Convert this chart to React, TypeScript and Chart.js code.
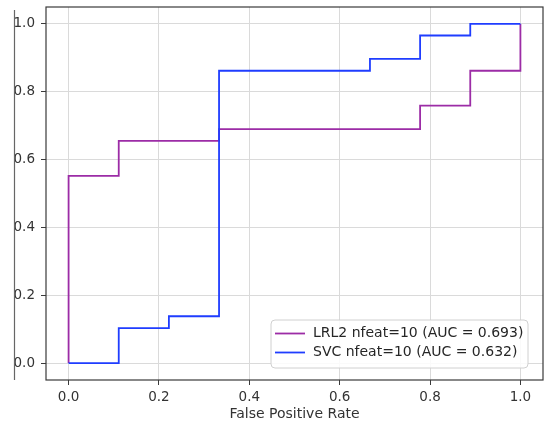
import { useEffect, useRef } from "react";
import { Chart, registerables } from "chart.js";
Chart.register(...registerables);

const lrl2Fpr = [0, 0, 0.111, 0.111, 0.333, 0.333, 0.778, 0.778, 0.889, 0.889, 1.0, 1.0];
const lrl2Tpr = [0, 0.552, 0.552, 0.655, 0.655, 0.69, 0.69, 0.759, 0.759, 0.862, 0.862, 1.0];
const svcFpr = [0, 0.111, 0.111, 0.222, 0.222, 0.333, 0.333, 0.667, 0.667, 0.778, 0.778, 0.889, 0.889, 1.0];
const svcTpr = [0, 0, 0.103, 0.103, 0.138, 0.138, 0.862, 0.862, 0.897, 0.897, 0.966, 0.966, 1.0, 1.0];
const seriesLabels = ["LRL2 nfeat=10 (AUC = 0.693)", "SVC nfeat=10 (AUC = 0.632)"];
const seriesColors = ["#9c2ca6", "#1f3dff"];
const tickValues = [0, 0.2, 0.4, 0.6, 0.8, 1.0];
const xTitle = "False Positive Rate";

const FONT = "DejaVu Sans";

export default function App() {
  const ref = useRef<HTMLCanvasElement | null>(null);
  useEffect(() => {
    if (!ref.current) return;
    const framePlugin = {
      id: "frame",
      afterDraw(chart: any) {
        const { ctx, chartArea: a } = chart;
        ctx.save();
        // axes frame
        ctx.strokeStyle = "#3a3a3a";
        ctx.lineWidth = 1.2;
        ctx.strokeRect(a.left, a.top, a.right - a.left, a.bottom - a.top);
        // left screenshot edge line
        ctx.strokeStyle = "#666";
        ctx.lineWidth = 1.2;
        ctx.beginPath();
        ctx.moveTo(14.5, 10);
        ctx.lineTo(14.5, 380);
        ctx.stroke();
        // legend
        const bx = a.right - 15 - 257;
        const by = a.bottom - 12 - 48;
        const bw = 257, bh = 48, r = 4;
        ctx.fillStyle = "rgba(255,255,255,0.85)";
        ctx.strokeStyle = "#d0d0d0";
        ctx.lineWidth = 1;
        ctx.beginPath();
        ctx.moveTo(bx + r, by);
        ctx.arcTo(bx + bw, by, bx + bw, by + bh, r);
        ctx.arcTo(bx + bw, by + bh, bx, by + bh, r);
        ctx.arcTo(bx, by + bh, bx, by, r);
        ctx.arcTo(bx, by, bx + bw, by, r);
        ctx.closePath();
        ctx.fill();
        ctx.stroke();
        ctx.font = `14px "${FONT}"`;
        ctx.textBaseline = "middle";
        ctx.textAlign = "left";
        seriesLabels.forEach((lab, i) => {
          const y = by + 13.5 + i * 19;
          ctx.strokeStyle = seriesColors[i];
          ctx.lineWidth = 1.8;
          ctx.beginPath();
          ctx.moveTo(bx + 4, y);
          ctx.lineTo(bx + 34, y);
          ctx.stroke();
          ctx.fillStyle = "#262626";
          ctx.fillText(lab, bx + 42, y);
        });
        ctx.restore();
      },
    };
    const commonScale = (isX: boolean) => ({
      type: "linear" as const,
      min: -0.05,
      max: 1.05,
      afterBuildTicks: (s: any) => {
        s.ticks = tickValues.map((v) => ({ value: v }));
      },
      afterFit: (s: any) => {
        if (isX) {
          s.height = 45;
          s.paddingLeft = 0;
          s.paddingRight = 0;
        } else {
          s.width = 46;
          s.paddingTop = 0;
          s.paddingBottom = 0;
        }
      },
      border: { display: false },
      grid: {
        color: "#dadada",
        lineWidth: 1,
        tickLength: 5,
        tickColor: "#3a3a3a",
        drawTicks: true,
      },
      ticks: {
        padding: isX ? 4 : 6,
        color: "#333",
        font: { family: FONT, size: 13.5 },
        callback: (v: any) => Number(v).toFixed(1),
        maxRotation: 0,
        autoSkip: false,
      },
      title: isX
        ? {
            display: true,
            text: xTitle,
            color: "#333",
            font: { family: FONT, size: 14 },
            padding: { top: 0, bottom: 2 },
          }
        : { display: false },
    });
    const chart = new Chart(ref.current, {
      type: "line",
      data: {
        datasets: [
          {
            label: seriesLabels[0],
            data: lrl2Fpr.map((x, i) => ({ x, y: lrl2Tpr[i] })),
            borderColor: seriesColors[0],
            borderWidth: 1.8,
            pointRadius: 0,
            fill: false,
            tension: 0,
            order: 1,
          },
          {
            label: seriesLabels[1],
            data: svcFpr.map((x, i) => ({ x, y: svcTpr[i] })),
            borderColor: seriesColors[1],
            borderWidth: 1.8,
            pointRadius: 0,
            fill: false,
            tension: 0,
            order: 0,
          },
        ],
      },
      options: {
        animation: false,
        responsive: false,
        maintainAspectRatio: false,
        layout: { padding: { left: 0, top: 7, right: 13, bottom: 0 } },
        plugins: { legend: { display: false }, tooltip: { enabled: false } },
        scales: {
          x: commonScale(true) as any,
          y: commonScale(false) as any,
        },
      },
      plugins: [framePlugin],
    });
    return () => chart.destroy();
  }, []);
  return (
    <div style={{ position: "fixed", left: 0, top: 0, width: 556, height: 425, background: "#fff" }}>
      <canvas ref={ref} width={556} height={425} style={{ width: 556, height: 425, display: "block" }} />
    </div>
  );
}
